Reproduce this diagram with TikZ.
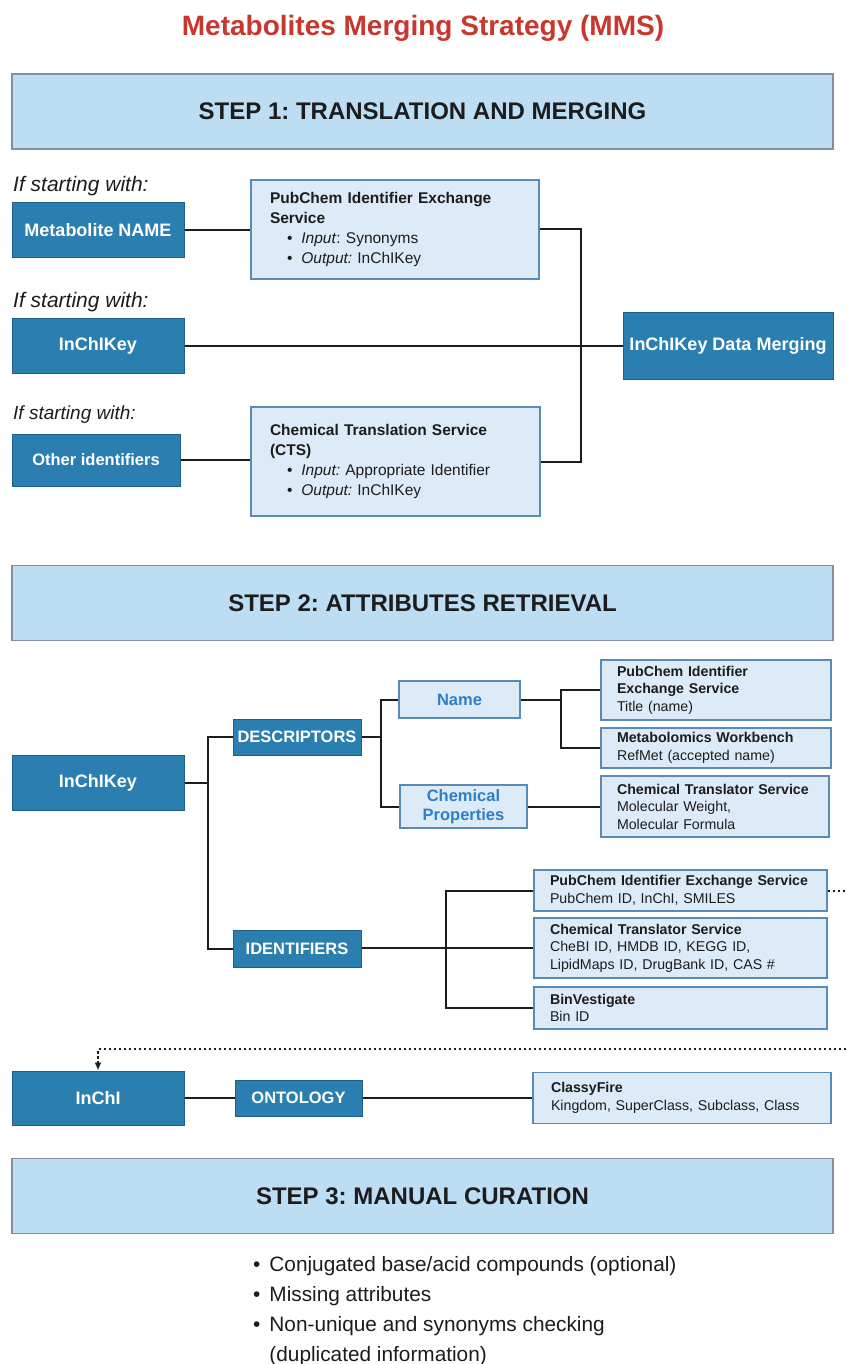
\documentclass[tikz,border=0pt]{standalone}
\usepackage{fontspec}
\setmainfont{Liberation Sans}
\usetikzlibrary{arrows.meta}
\definecolor{titlered}{HTML}{C8372D}
\definecolor{bannerfill}{HTML}{BDDDF3}
\definecolor{bannerline}{HTML}{83909B}
\definecolor{darkfill}{HTML}{2A7FB0}
\definecolor{darkline}{HTML}{1E5F87}
\definecolor{lightfill}{HTML}{DDEBF8}
\definecolor{lightline}{HTML}{5A8BB6}
\definecolor{keyblue}{HTML}{2F7FC8}
\definecolor{inkgray}{HTML}{1C1C1C}
\newcommand{\srcitem}{\hspace*{17pt}\textbullet\hspace{9pt}}
\frenchspacing
\tikzset{
	banner/.style={draw=bannerline, fill=bannerfill, line width=1.2pt, minimum width=821pt, minimum height=75pt, inner sep=0pt, text=inkgray, font=\fontsize{24}{28}\selectfont\bfseries},
	darkbox/.style={draw=darkline, fill=darkfill, text=white, line width=1pt, inner sep=0pt, font=\fontsize{18}{21}\selectfont\bfseries},
	catbox/.style={darkbox, font=\fontsize{16.5}{19}\selectfont\bfseries},
	srcbox/.style={draw=lightline, fill=lightfill, line width=1.2pt, align=left, inner xsep=19pt, inner ysep=0pt, text=inkgray, font=\fontsize{15.5}{19.7}\selectfont},
	attrbox/.style={srcbox, inner xsep=16pt, font=\fontsize{14.2}{17.5}\selectfont},
	keybox/.style={draw=lightline, fill=lightfill, text=keyblue, line width=1.2pt, align=center, inner sep=0pt, font=\fontsize{16.5}{19}\selectfont\bfseries},
	link/.style={line width=2pt, draw=inkgray},
	dottedlink/.style={link, dash pattern=on 2.5pt off 2.5pt},
	hint/.style={inner sep=0pt, anchor=west, text=inkgray, font=\fontsize{21}{24}\selectfont\itshape}
}
\begin{document}
\begin{tikzpicture}[x=1pt,y=-1pt]
	\useasboundingbox (0,0) rectangle (846,1364);
	\node[font=\fontsize{28}{32}\selectfont\bfseries, text=titlered] (title) at (423,28) {Metabolites Merging Strategy (MMS)};

	\node[banner] (step1) at (422.5,111.5) {STEP 1: TRANSLATION AND MERGING};
	\node[hint] (hint1) at (13,186) {If starting with:};
	\node[darkbox, minimum width=172pt, minimum height=54pt] (name1) at (98,230) {Metabolite NAME};
	\node[srcbox, text width=250pt, minimum height=99pt] (pub1) at (395,229.5) {\textbf{PubChem Identifier Exchange}\\\textbf{Service}\\\srcitem\textit{Input}: Synonyms\\\srcitem\textit{Output:} InChIKey};
	\node[hint] (hint2) at (13,302) {If starting with:};
	\node[darkbox, minimum width=172pt, minimum height=55pt] (key1) at (98,345.5) {InChIKey};
	\node[darkbox, minimum width=210pt, minimum height=67pt] (merge) at (728,345.5) {InChIKey Data Merging};
	\node[hint, font=\fontsize{19}{22}\selectfont\itshape] (hint3) at (13,415) {If starting with:};
	\node[darkbox, font=\fontsize{16.5}{19}\selectfont\bfseries, minimum width=168pt, minimum height=52pt] (other) at (96,460) {Other identifiers};
	\node[srcbox, text width=251pt, minimum height=109pt] (cts1) at (395.5,461.5) {\textbf{Chemical Translation Service}\\\textbf{(CTS)}\\\srcitem\textit{Input:} Appropriate Identifier\\\srcitem\textit{Output:} InChIKey};
	\coordinate (mergejoin) at (581,345.5);
	\draw[link] (name1.east) -- (name1.east -| pub1.west);
	\draw[link] (other.east) -- (other.east -| cts1.west);
	\draw[link] (key1) -- (merge);
	\draw[link] (pub1.east) -| (mergejoin) |- (cts1.east);

	\node[banner] (step2) at (422.5,603) {STEP 2: ATTRIBUTES RETRIEVAL};
	\node[darkbox, minimum width=172pt, minimum height=55pt] (key2) at (98,782.5) {InChIKey};
	\node[catbox, minimum width=128pt, minimum height=36pt] (desc) at (297,737) {DESCRIPTORS};
	\node[catbox, minimum width=128pt, minimum height=37pt] (ident) at (297,948.5) {IDENTIFIERS};
	\node[keybox, minimum width=121pt, minimum height=37pt] (name2) at (459.5,699.5) {Name};
	\node[keybox, minimum width=127pt, minimum height=43pt] (chem) at (463.5,806.5) {Chemical\\Properties};
	\node[attrbox, text width=198pt, minimum height=60pt] (pubname) at (716,690) {\textbf{PubChem Identifier}\\\textbf{Exchange Service}\\Title (name)};
	\node[attrbox, text width=198pt, minimum height=40pt] (mwb) at (716,748) {\textbf{Metabolomics Workbench}\\RefMet (accepted name)};
	\node[attrbox, text width=196pt, minimum height=61pt] (ctsprop) at (715,806.5) {\textbf{Chemical Translator Service}\\Molecular Weight,\\Molecular Formula};
	\node[attrbox, text width=261pt, minimum height=41pt] (pubid) at (680.5,890.5) {\textbf{PubChem Identifier Exchange Service}\\PubChem ID, InChI, SMILES};
	\node[attrbox, text width=261pt, minimum height=60pt] (ctsid) at (680.5,948) {\textbf{Chemical Translator Service}\\CheBI ID, HMDB ID, KEGG ID,\\LipidMaps ID, DrugBank ID, CAS \#};
	\node[attrbox, text width=261pt, minimum height=42pt] (bin) at (680.5,1008) {\textbf{BinVestigate}\\Bin ID};
	\coordinate (keyjoin) at (208,782.5);
	\coordinate (descjoin) at (381,737);
	\coordinate (namejoin) at (561,699.5);
	\coordinate (identjoin) at (446,948);
	\draw[link] (key2) -- (keyjoin);
	\draw[link] (desc.west) -| (keyjoin) |- (ident.west);
	\draw[link] (desc) -- (descjoin);
	\draw[link] (name2.west) -| (descjoin) |- (chem.west);
	\draw[link] (name2) -- (namejoin);
	\draw[link] (pubname.west) -| (namejoin) |- (mwb.west);
	\draw[link] (chem) -- (ctsprop);
	\draw[link] (ident.east |- identjoin) -- (ctsid.west);
	\draw[link] (pubid.west) -| (identjoin) |- (bin.west);

	\node[darkbox, minimum width=172pt, minimum height=54pt] (inchi) at (98,1098) {InChI};
	\node[catbox, minimum width=127pt, minimum height=36pt] (onto) at (298.5,1098) {ONTOLOGY};
	\node[attrbox, inner xsep=18pt, text width=262pt, minimum height=51pt] (classy) at (682,1098) {\textbf{ClassyFire}\\Kingdom, SuperClass, Subclass, Class};
	\coordinate (edgeout) at (846,890.5);
	\coordinate (edgein) at (846,1049);
	\draw[dottedlink] (pubid) -- (edgeout);
	\draw[dottedlink, -{Latex[length=8pt,width=7pt]}] (edgein) -| (inchi.north);
	\draw[link] (inchi) -- (onto);
	\draw[link] (onto) -- (classy);

	\node[banner] (step3) at (422.5,1196) {STEP 3: MANUAL CURATION};
	\node[anchor=north west, inner sep=0pt, text=inkgray, font=\fontsize{20.8}{30}\selectfont] (curation) at (253,1250) {\begin{tabular}{@{}l@{\hspace{9pt}}l@{}}
		\textbullet & Conjugated base/acid compounds (optional)\\
		\textbullet & Missing attributes\\
		\textbullet & Non-unique and synonyms checking\\
		 & (duplicated information)
	\end{tabular}};
\end{tikzpicture}
\end{document}
